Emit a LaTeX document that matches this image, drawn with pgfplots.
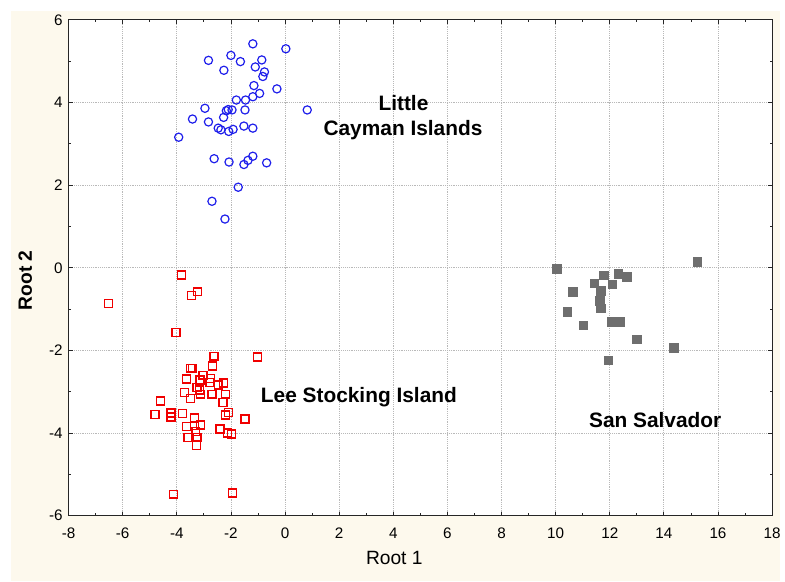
\documentclass[border=0pt]{standalone}
\usepackage{pgfplots}
\pgfplotsset{compat=1.18}
\usepackage{fontspec}
\setmainfont{Liberation Sans}
\definecolor{cream}{RGB}{253,249,237}
\definecolor{ptblue}{RGB}{30,30,235}
\definecolor{ptred}{RGB}{240,0,0}
\definecolor{ptgray}{RGB}{110,110,110}
\definecolor{gridgray}{RGB}{185,185,185}
\begin{document}
\begin{tikzpicture}
\fill[white] (-51.75pt,-49.5pt) rectangle (537pt,389.25pt);
\fill[cream] (-43.5pt,-49.5pt) rectangle (537pt,381pt);
\begin{axis}[
  scale only axis,
  width=531pt, height=374.25pt,
  xmin=-8, xmax=18, ymin=-6, ymax=6,
  axis background/.style={fill=white},
  axis line style={black!85, line width=0.75pt},
  xtick={-8,-6,...,18},
  xticklabels={-8,-6,-4,-2,0,2,4,6,8,10,12,14,16,18},
  ytick={-6,-4,...,6},
  yticklabels={-6,-4,-2,0,2,4,6},
  minor x tick num=1, minor y tick num=1,
  tick align=inside,
  major tick length=3pt, minor tick length=1.75pt,
  tick style={black!85, line width=0.6pt},
  grid=major,
  grid style={densely dotted, gridgray, line width=0.6pt},
  tick label style={font=\fontsize{11.5}{13}\selectfont},
  xticklabel style={yshift=-5.5pt},
  yticklabel style={xshift=-1pt},
  xlabel={Root 1}, ylabel={\textbf{Root 2}},
  label style={font=\fontsize{14.5}{16}\selectfont},
  xlabel style={at={(axis description cs:0.463,0)}, anchor=north, yshift=-23pt},
  ylabel style={at={(axis description cs:0,0.475)}, anchor=south, yshift=24pt},
  clip=false,
]
\addplot[only marks, mark=o, mark size=3.1pt, color=ptblue,
  mark options={draw=ptblue, fill=none, line width=0.9pt}] coordinates {
(-1.19,5.42) (0.03,5.30) (-2.83,5.02) (-2.00,5.14) (-1.65,4.99) (-0.86,5.03) (-2.26,4.78) (-1.10,4.86) (-0.76,4.74) (-0.82,4.63) (-1.15,4.41) (-0.30,4.33) (-0.94,4.22) (-1.19,4.14) (-1.46,4.06) (-1.80,4.06) (0.82,3.82) (-2.96,3.86) (-2.10,3.83) (-1.96,3.82) (-1.48,3.82) (-2.17,3.80) (-3.42,3.60) (-2.27,3.64) (-2.83,3.53) (-3.93,3.16) (-2.47,3.38) (-2.37,3.34) (-2.08,3.30) (-1.92,3.35) (-1.52,3.43) (-1.19,3.38) (-2.62,2.64) (-2.07,2.56) (-1.52,2.50) (-1.37,2.60) (-1.19,2.70) (-0.68,2.54) (-1.73,1.95) (-2.70,1.61) (-2.22,1.18)
};
\addplot[only marks, mark=square, mark size=3pt, color=ptred,
  mark options={draw=ptred, fill=none, line width=1.1pt}] coordinates {
(-3.83,-0.17) (-3.45,-0.67) (-3.24,-0.58) (-6.53,-0.86) (-4.03,-1.57) (-2.62,-2.14) (-1.02,-2.16) (-2.68,-2.38) (-3.50,-2.43) (-3.43,-2.43) (-3.03,-2.60) (-3.65,-2.69) (-2.75,-2.68) (-3.14,-2.72) (-2.77,-2.78) (-2.47,-2.84) (-2.27,-2.79) (-3.26,-2.90) (-3.17,-2.96) (-3.72,-3.02) (-3.49,-3.16) (-3.12,-3.06) (-2.70,-3.06) (-2.20,-3.06) (-4.60,-3.22) (-2.29,-3.26) (-4.81,-3.55) (-4.21,-3.51) (-4.21,-3.61) (-3.79,-3.52) (-2.09,-3.50) (-2.20,-3.56) (-3.35,-3.63) (-1.48,-3.66) (-3.65,-3.84) (-3.13,-3.80) (-3.35,-3.82) (-2.41,-3.90) (-3.30,-3.96) (-3.59,-4.11) (-3.25,-4.10) (-2.13,-4.00) (-1.98,-4.02) (-3.27,-4.30) (-4.13,-5.48) (-1.95,-5.45)
};
\addplot[only marks, mark=square*, mark size=3.25pt, color=ptgray,
  mark options={fill=ptgray, draw=ptgray}] coordinates {
(10.05,-0.02) (11.77,-0.18) (12.32,-0.14) (12.63,-0.22) (11.43,-0.37) (12.09,-0.40) (10.63,-0.58) (11.67,-0.56) (11.64,-0.80) (11.67,-0.98) (10.43,-1.07) (11.02,-1.39) (12.06,-1.30) (12.38,-1.30) (12.99,-1.73) (14.36,-1.94) (11.94,-2.24) (15.24,0.15)
};
\node[anchor=base, font=\bfseries\fontsize{15.75}{18}\selectfont] at (axis cs:4.375,3.795) {Little};
\node[anchor=base, font=\bfseries\fontsize{15.75}{18}\selectfont] at (axis cs:4.36,3.194) {Cayman Islands};
\node[anchor=base, font=\bfseries\fontsize{15.75}{18}\selectfont] at (axis cs:2.73,-3.26) {Lee Stocking Island};
\node[anchor=base, font=\bfseries\fontsize{15.75}{18}\selectfont] at (axis cs:13.68,-3.86) {San Salvador};
\end{axis}
\end{tikzpicture}
\end{document}
